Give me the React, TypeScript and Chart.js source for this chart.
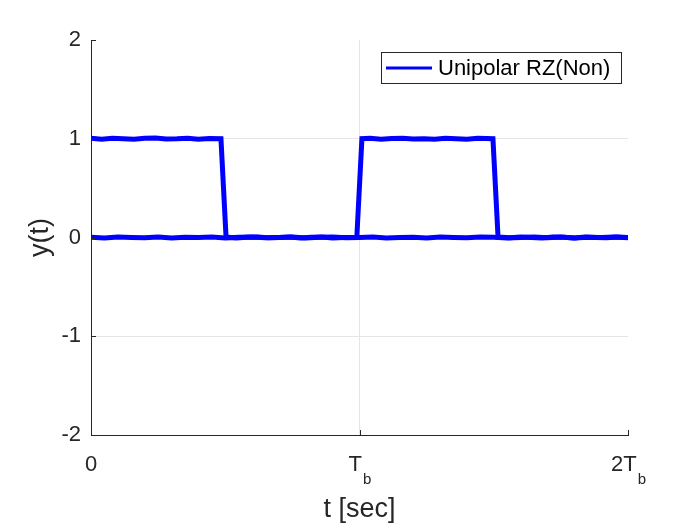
import React, { useEffect, useRef } from "react";
import { Chart, registerables } from "chart.js";

Chart.register(...registerables);

// Time axis in units of T_b
const traceA_t = [0, 0.04, 0.08, 0.12, 0.16, 0.2, 0.24, 0.28, 0.32, 0.36, 0.4, 0.44, 0.484,
  0.503, 0.54, 0.58, 0.62, 0.66, 0.7, 0.74, 0.78, 0.82, 0.86, 0.9, 0.94, 0.99,
  1.009, 1.04, 1.08, 1.12, 1.16, 1.2, 1.24, 1.28, 1.32, 1.36, 1.4, 1.44, 1.497,
  1.516, 1.56, 1.6, 1.64, 1.68, 1.72, 1.76, 1.8, 1.84, 1.88, 1.92, 1.96, 2.0];
const traceA_y = [1.004, 0.996, 1.006, 1.0, 0.994, 1.004, 1.008, 0.998, 1.0, 1.006, 0.996, 1.002, 1.0,
  0.004, -0.004, 0.002, 0.006, -0.002, 0.0, 0.004, -0.006, 0.002, 0.004, -0.004, 0.0, 0.002,
  1.0, 1.004, 0.996, 1.002, 1.006, 0.998, 1.0, 0.994, 1.004, 1.0, 0.996, 1.006, 1.0,
  0.004, -0.002, 0.004, 0.0, -0.006, 0.004, 0.002, -0.004, 0.006, 0.0, -0.002, 0.004, 0.0];

const traceB_t = [0, 0.05, 0.1, 0.15, 0.2, 0.25, 0.3, 0.35, 0.4, 0.45, 0.5, 0.55, 0.6, 0.65, 0.7,
  0.75, 0.8, 0.85, 0.9, 0.95, 1.0, 1.05, 1.1, 1.15, 1.2, 1.25, 1.3, 1.35, 1.4, 1.45, 1.5,
  1.55, 1.6, 1.65, 1.7, 1.75, 1.8, 1.85, 1.9, 1.95, 2.0];
const traceB_y = [0.002, -0.004, 0.004, 0.0, -0.002, 0.006, -0.004, 0.002, 0.0, 0.004, -0.006,
  0.002, 0.004, -0.002, 0.0, 0.004, -0.004, 0.002, 0.006, -0.002, 0.0, 0.004, -0.004, 0.0, 0.002,
  -0.006, 0.004, 0.0, -0.002, 0.004, 0.002, -0.004, 0.0, 0.006, -0.002, 0.004, -0.004, 0.002, 0.0,
  0.004, -0.002];

const xTickValues = [0, 1, 2];
const xTickMain = ["0", "T", "2T"];
const xTickSub = ["", "b", "b"];
const yTickValues = [-2, -1, 0, 1, 2];
const legendLabel = "Unipolar RZ(Non)";
const xTitle = "t [sec]";
const yTitle = "y(t)";

const FONT = "'Liberation Sans', Arial, Helvetica, sans-serif";
const TEXT = "#262626";
const BLUE = "#0000ff";

export default function App() {
  const ref = useRef<HTMLCanvasElement>(null);
  useEffect(() => {
    document.body.style.margin = "0";
    const canvas = ref.current!;
    const overlay = {
      id: "overlay",
      afterDraw(chart: any) {
        const ctx = chart.ctx as CanvasRenderingContext2D;
        const xs = chart.scales.x;
        const ys = chart.scales.y;
        const area = chart.chartArea;
        ctx.save();
        // inward ticks
        ctx.strokeStyle = TEXT;
        ctx.lineWidth = 1;
        ctx.beginPath();
        yTickValues.forEach((v) => {
          const y = Math.round(ys.getPixelForValue(v)) + 0.5;
          ctx.moveTo(area.left, y);
          ctx.lineTo(area.left + 5, y);
        });
        xTickValues.forEach((v) => {
          const x = Math.round(xs.getPixelForValue(v)) + 0.5;
          ctx.moveTo(x, area.bottom);
          ctx.lineTo(x, area.bottom - 5);
        });
        ctx.stroke();
        // x tick labels with subscript
        ctx.fillStyle = TEXT;
        ctx.textBaseline = "alphabetic";
        xTickValues.forEach((v, i) => {
          const cx = xs.getPixelForValue(v);
          ctx.font = `22px ${FONT}`;
          const mw = ctx.measureText(xTickMain[i]).width;
          ctx.font = `15px ${FONT}`;
          const sw = xTickSub[i] ? ctx.measureText(xTickSub[i]).width : 0;
          const total = mw + sw;
          const x0 = cx - total / 2;
          ctx.textAlign = "left";
          ctx.font = `22px ${FONT}`;
          ctx.fillText(xTickMain[i], x0, 471);
          if (xTickSub[i]) {
            ctx.font = `15px ${FONT}`;
            ctx.fillText(xTickSub[i], x0 + mw + 1, 484);
          }
        });
        // axis titles
        ctx.font = `27px ${FONT}`;
        ctx.textAlign = "center";
        ctx.textBaseline = "middle";
        ctx.fillText(xTitle, (area.left + area.right) / 2, 510);
        ctx.save();
        ctx.translate(41, (area.top + area.bottom) / 2);
        ctx.rotate(-Math.PI / 2);
        ctx.fillText(yTitle, 0, 0);
        ctx.restore();
        // legend
        ctx.fillStyle = "#ffffff";
        ctx.fillRect(381, 52, 240, 31);
        ctx.strokeStyle = TEXT;
        ctx.lineWidth = 1;
        ctx.strokeRect(381.5, 52.5, 240, 31);
        ctx.strokeStyle = BLUE;
        ctx.lineWidth = 3;
        ctx.beginPath();
        ctx.moveTo(386, 68);
        ctx.lineTo(432, 68);
        ctx.stroke();
        ctx.fillStyle = "#000000";
        ctx.font = `22px ${FONT}`;
        ctx.textAlign = "left";
        ctx.textBaseline = "middle";
        ctx.fillText(legendLabel, 438, 69);
        ctx.restore();
      },
    };
    const chart = new Chart(canvas, {
      type: "line",
      data: {
        datasets: [
          {
            label: legendLabel,
            data: traceA_t.map((t, i) => ({ x: t, y: traceA_y[i] })),
            borderColor: BLUE,
            borderWidth: 5,
            pointRadius: 0,
            tension: 0,
          },
          {
            label: legendLabel + " ",
            data: traceB_t.map((t, i) => ({ x: t, y: traceB_y[i] })),
            borderColor: BLUE,
            borderWidth: 5,
            pointRadius: 0,
            tension: 0,
          },
        ],
      },
      options: {
        animation: false,
        responsive: false,
        devicePixelRatio: 1,
        layout: { padding: { left: 0, top: 40, right: 72, bottom: 0 } },
        plugins: { legend: { display: false }, tooltip: { enabled: false } },
        scales: {
          x: {
            type: "linear",
            min: 0,
            max: 2,
            ticks: { stepSize: 1, display: false },
            grid: {
              drawTicks: false,
              color: (c: any) => (c.tick && c.tick.value === 1 ? "#e5e5e5" : "rgba(0,0,0,0)"),
            },
            border: { display: true, color: TEXT, width: 1 },
            afterFit: (s: any) => {
              s.height = 90;
            },
          },
          y: {
            type: "linear",
            min: -2,
            max: 2,
            ticks: {
              stepSize: 1,
              padding: 10,
              color: TEXT,
              font: { family: FONT, size: 22 },
            },
            grid: {
              drawTicks: false,
              color: (c: any) =>
                c.tick && (c.tick.value === 2 || c.tick.value === -2) ? "rgba(0,0,0,0)" : "#e5e5e5",
            },
            border: { display: true, color: TEXT, width: 1 },
            afterFit: (s: any) => {
              s.width = 91;
            },
          },
        },
      },
      plugins: [overlay],
    });
    return () => chart.destroy();
  }, []);
  return (
    <div style={{ position: "absolute", left: 0, top: 0, width: 700, height: 525, background: "#fff" }}>
      <canvas ref={ref} width={700} height={525} />
    </div>
  );
}
